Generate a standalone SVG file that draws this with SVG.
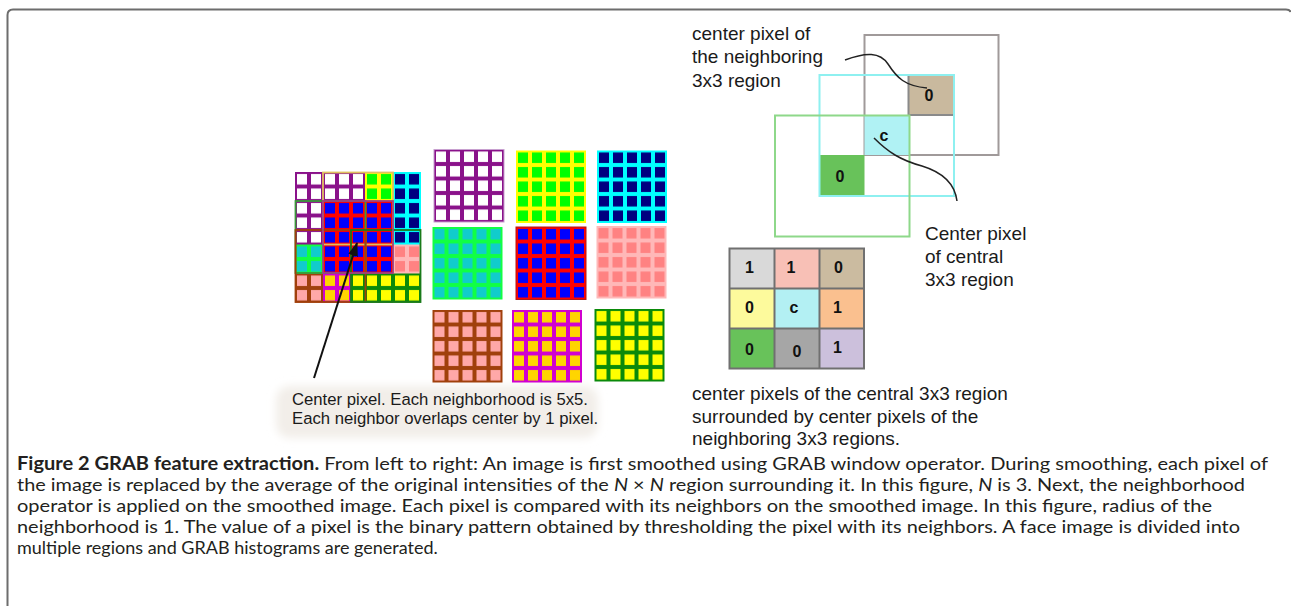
<svg xmlns="http://www.w3.org/2000/svg" width="1291" height="606" viewBox="0 0 1291 606">
<style>
.lbl{font-family:"Liberation Sans",Arial,sans-serif;font-size:19px;fill:#1a1a1a}
.sm{font-family:"Liberation Sans",Arial,sans-serif;font-size:16.7px;fill:#1a1a1a}
.num{font-family:"Liberation Sans",Arial,sans-serif;font-size:16px;font-weight:bold;fill:#111;text-anchor:middle}
.cap{font-family:Lato,"Open Sans",sans-serif;font-size:18px;fill:#231f20}
.reg{fill:none;stroke-width:1.8}
.curve{fill:none;stroke:#222;stroke-width:1.5}
</style>
<defs>
<pattern id="pP" patternUnits="userSpaceOnUse" width="14" height="14.5"><rect width="14" height="14.5" fill="#8a128a"/><rect x="2" y="2" width="10" height="10.5" fill="#ffffff"/></pattern>
<pattern id="pY" patternUnits="userSpaceOnUse" width="14" height="14.5"><rect width="14" height="14.5" fill="#ffff00"/><rect x="2" y="2" width="10" height="10.5" fill="#00ff00"/></pattern>
<pattern id="pC" patternUnits="userSpaceOnUse" width="14" height="14.5"><rect width="14" height="14.5" fill="#00ffff"/><rect x="2" y="2" width="10" height="10.5" fill="#000080"/></pattern>
<pattern id="pG" patternUnits="userSpaceOnUse" width="14" height="14.5"><rect width="14" height="14.5" fill="#11ff44"/><rect x="2" y="2" width="10" height="10.5" fill="#11cccc"/></pattern>
<pattern id="pR" patternUnits="userSpaceOnUse" width="14" height="14.5"><rect width="14" height="14.5" fill="#ff0000"/><rect x="2" y="2" width="10" height="10.5" fill="#0000ff"/></pattern>
<pattern id="pK" patternUnits="userSpaceOnUse" width="14" height="14.5"><rect width="14" height="14.5" fill="#ffb8b8"/><rect x="2" y="2" width="10" height="10.5" fill="#ff8282"/></pattern>
<pattern id="pB" patternUnits="userSpaceOnUse" width="14" height="14.5"><rect width="14" height="14.5" fill="#a0400c"/><rect x="2" y="2" width="10" height="10.5" fill="#ffa8a8"/></pattern>
<pattern id="pM" patternUnits="userSpaceOnUse" width="14" height="14.5"><rect width="14" height="14.5" fill="#d000d0"/><rect x="2" y="2" width="10" height="10.5" fill="#ffd500"/></pattern>
<pattern id="pD" patternUnits="userSpaceOnUse" width="14" height="14.5"><rect width="14" height="14.5" fill="#0a8a0a"/><rect x="2" y="2" width="10" height="10.5" fill="#ffff00"/></pattern>
<marker id="ah" markerWidth="14" markerHeight="10" refX="13" refY="5" orient="auto" markerUnits="userSpaceOnUse"><polygon points="0,0 14,5 0,10" fill="#111"/></marker>
<filter id="soft" x="-10%" y="-30%" width="120%" height="160%"><feGaussianBlur stdDeviation="4"/></filter>
</defs>
<rect width="1291" height="606" fill="#ffffff"/>
<path d="M7.5 606 V15 Q7.5 9.5 13 9.5 H1286 Q1290 9.5 1290.5 12" fill="none" stroke="#6d6d6d" stroke-width="2"/>

<!-- faint wash behind the left label -->
<rect x="276" y="386" width="322" height="52" rx="14" fill="#f2eee9" filter="url(#soft)"/>

<!-- composite of overlapping neighborhoods -->
<g id="composite" transform="translate(295,172)">
<rect x="0" y="58" width="70" height="72.5" fill="url(#pB)"/>
<rect x="28" y="58" width="70" height="72.5" fill="url(#pM)"/>
<rect x="56" y="58" width="70" height="72.5" fill="url(#pD)"/>
<rect x="0" y="29" width="70" height="72.5" fill="url(#pG)"/>
<rect x="56" y="29" width="70" height="72.5" fill="url(#pK)"/>
<rect x="56" y="0" width="70" height="72.5" fill="url(#pC)"/>
<rect x="28" y="0" width="70" height="72.5" fill="url(#pY)"/>
<rect x="0" y="0" width="70" height="72.5" fill="url(#pP)"/>
<rect x="28" y="29" width="70" height="72.5" fill="url(#pR)"/>
<rect class="reg" x="28" y="0.5" width="70" height="72" stroke="#e0c060"/>
<rect class="reg" x="0.5" y="29" width="70" height="72" stroke="#3a9a3a"/>
<rect class="reg" x="0.5" y="58" width="70" height="72" stroke="#a0400c"/>
<rect class="reg" x="56" y="58" width="69.5" height="72" stroke="#1a7a1a"/>
<rect class="reg" x="28" y="29" width="70" height="72" stroke="#a04080"/>
</g>

<!-- separate 5x5 neighborhoods -->
<g id="n1" transform="translate(434,149.5)"><rect width="70" height="72.5" fill="url(#pP)" stroke="#c8a0d0" stroke-width="1"/></g>
<g id="n2" transform="translate(516,150.5)"><rect width="70" height="72.5" fill="url(#pY)"/></g>
<g id="n3" transform="translate(597,150.5)"><rect width="70" height="72.5" fill="url(#pC)"/></g>
<g id="n4" transform="translate(432.5,227)"><rect width="70" height="72.5" fill="url(#pG)"/></g>
<g id="n5" transform="translate(516,227)"><rect width="70" height="72.5" fill="url(#pR)" stroke="#b01818" stroke-width="1"/></g>
<g id="n6" transform="translate(596.5,226)"><rect width="70" height="72.5" fill="url(#pK)"/></g>
<g id="n7" transform="translate(432.5,310)"><rect width="70" height="72.5" fill="url(#pB)"/></g>
<g id="n8" transform="translate(512,310)"><rect width="70" height="72.5" fill="url(#pM)"/></g>
<g id="n9" transform="translate(594.5,309)"><rect width="70" height="72.5" fill="url(#pD)"/></g>

<!-- overlapping 3x3 regions -->
<g id="regions">
<rect x="864.5" y="35" width="134" height="120" fill="none" stroke="#a09a9a" stroke-width="2"/>
<rect x="908.5" y="75" width="45.5" height="40" fill="#c9b99e" stroke="#8a8a8a" stroke-width="2"/>
<rect x="864.5" y="115" width="44.5" height="40" fill="#b0f2f4"/>
<rect x="819.5" y="155" width="45" height="41" fill="#68c25a"/>
<rect x="819.5" y="75" width="134.5" height="121" fill="none" stroke="#8ef0f0" stroke-width="2"/>
<rect x="775" y="115.5" width="134.5" height="121" fill="none" stroke="#8ed88a" stroke-width="2"/>
<text class="num" x="929" y="101">0</text>
<text class="num" x="884" y="141">c</text>
<text class="num" x="840" y="182">0</text>
</g>

<!-- result 3x3 table -->
<g id="table">
<rect x="729.5" y="248.5" width="45" height="40" fill="#d9d9d9"/>
<rect x="774.5" y="248.5" width="45" height="40" fill="#f8c0b6"/>
<rect x="819.5" y="248.5" width="44.5" height="40" fill="#cbbba0"/>
<rect x="729.5" y="288.5" width="45" height="40" fill="#fdfa9c"/>
<rect x="774.5" y="288.5" width="45" height="40" fill="#b3f0f3"/>
<rect x="819.5" y="288.5" width="44.5" height="40" fill="#fac08f"/>
<rect x="729.5" y="328.5" width="45" height="40" fill="#68c25a"/>
<rect x="774.5" y="328.5" width="45" height="40" fill="#a6a6a6"/>
<rect x="819.5" y="328.5" width="44.5" height="40" fill="#ccc0dc"/>
<path d="M729.5 248.5 H864 V368.5 H729.5 Z M774.5 248.5 V368.5 M819.5 248.5 V368.5 M729.5 288.5 H864 M729.5 328.5 H864" fill="none" stroke="#707070" stroke-width="2"/>
<text class="num" x="749.5" y="273">1</text>
<text class="num" x="791" y="273">1</text>
<text class="num" x="838.5" y="273">0</text>
<text class="num" x="749.5" y="313">0</text>
<text class="num" x="794" y="313">c</text>
<text class="num" x="837.5" y="313">1</text>
<text class="num" x="749.5" y="355">0</text>
<text class="num" x="797" y="357">0</text>
<text class="num" x="837.5" y="353">1</text>
</g>

<!-- connectors -->
<g id="connectors">
<line x1="314" y1="378" x2="357" y2="243" stroke="#111" stroke-width="2" marker-end="url(#ah)"/>
<path class="curve" d="M845 60 C866 52 880 52 888 64 C897 78 905 86 927 88"/>
<path class="curve" d="M874 138 C888 152 900 160 922 166 C945 173 955 185 957 201"/>
</g>

<!-- labels -->
<g id="labels">
<text class="lbl" x="692" y="40">center pixel of</text>
<text class="lbl" x="692" y="63">the neighboring</text>
<text class="lbl" x="692" y="87">3x3 region</text>
<text class="lbl" x="925" y="240">Center pixel</text>
<text class="lbl" x="925" y="263">of central</text>
<text class="lbl" x="925" y="286">3x3 region</text>
<text class="sm" x="292" y="405">Center pixel. Each neighborhood is 5x5.</text>
<text class="sm" x="292" y="424">Each neighbor overlaps center by 1 pixel.</text>
<text class="lbl" x="692" y="400">center pixels of the central 3x3 region</text>
<text class="lbl" x="692" y="423">surrounded by center pixels of the</text>
<text class="lbl" x="692" y="445">neighboring 3x3 regions.</text>
</g>

<!-- caption -->
<g id="caption">
<text class="cap" x="17" y="470" textLength="1251" lengthAdjust="spacingAndGlyphs"><tspan font-weight="bold">Figure 2 GRAB feature extraction.</tspan> From left to right: An image is first smoothed using GRAB window operator. During smoothing, each pixel of</text>
<text class="cap" x="17" y="491" textLength="1228" lengthAdjust="spacingAndGlyphs">the image is replaced by the average of the original intensities of the <tspan font-style="italic">N</tspan> × <tspan font-style="italic">N</tspan> region surrounding it. In this figure, <tspan font-style="italic">N</tspan> is 3. Next, the neighborhood</text>
<text class="cap" x="17" y="512" textLength="1195" lengthAdjust="spacingAndGlyphs">operator is applied on the smoothed image. Each pixel is compared with its neighbors on the smoothed image. In this figure, radius of the</text>
<text class="cap" x="17" y="533" textLength="1223" lengthAdjust="spacingAndGlyphs">neighborhood is 1. The value of a pixel is the binary pattern obtained by thresholding the pixel with its neighbors. A face image is divided into</text>
<text class="cap" x="17" y="554">multiple regions and GRAB histograms are generated.</text>
</g>
</svg>
